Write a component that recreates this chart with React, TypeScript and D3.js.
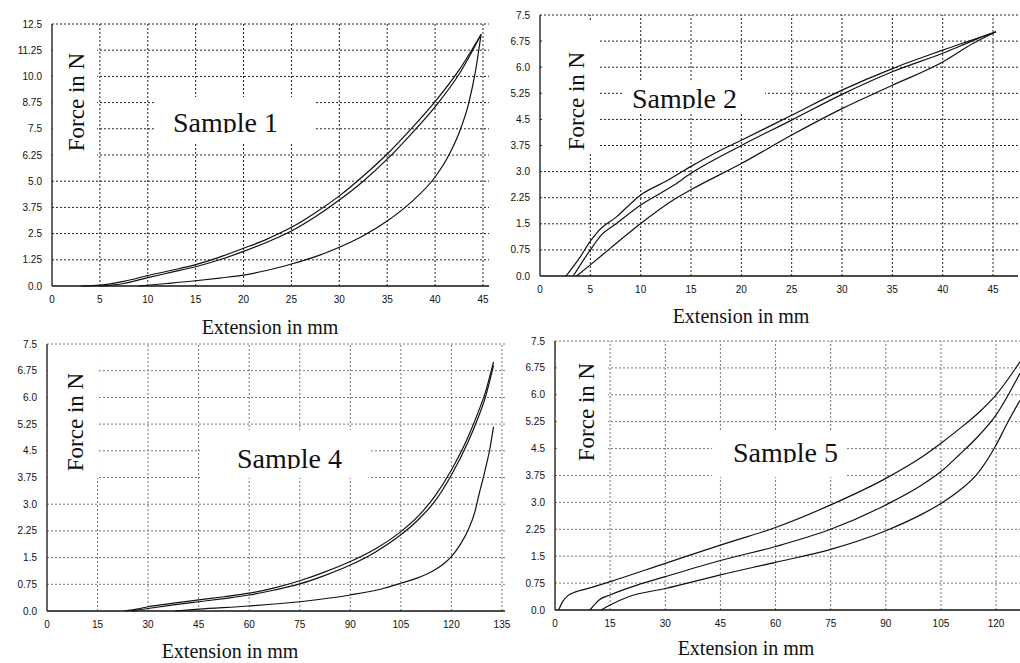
import * as d3 from 'd3'

type Pt = [number, number]

// ---- tick values ----
const S1_X_TICKS = [0, 5, 10, 15, 20, 25, 30, 35, 40, 45]
const S1_Y_TICKS = [0, 1.25, 2.5, 3.75, 5, 6.25, 7.5, 8.75, 10, 11.25, 12.5]
const S2_X_TICKS = [0, 5, 10, 15, 20, 25, 30, 35, 40, 45]
const SMALL_Y_TICKS = [0, 0.75, 1.5, 2.25, 3, 3.75, 4.5, 5.25, 6, 6.75, 7.5]
const S4_X_TICKS = [0, 15, 30, 45, 60, 75, 90, 105, 120, 135]
const S5_X_TICKS = [0, 15, 30, 45, 60, 75, 90, 105, 120]

// ---- sample 1 (force in N vs extension in mm) ----
const S1_A: Pt[] = [[3, 0], [5, 0.04], [7.5, 0.22], [10, 0.5], [12.5, 0.75], [15, 1.02], [17.5, 1.38], [20, 1.8], [22.5, 2.25], [25, 2.8], [27.5, 3.5], [30, 4.3], [32.5, 5.25], [35, 6.3], [37.5, 7.5], [40, 8.8], [42.5, 10.3], [44.8, 12.0]]
const S1_B: Pt[] = [[5, 0], [7.5, 0.12], [10, 0.4], [12.5, 0.66], [15, 0.92], [17.5, 1.25], [20, 1.65], [22.5, 2.1], [25, 2.62], [27.5, 3.3], [30, 4.1], [32.5, 5.0], [35, 6.05], [37.5, 7.25], [40, 8.55], [42.5, 10.1], [44.8, 12.0]]
const S1_C: Pt[] = [[9, 0], [12, 0.12], [15, 0.25], [17.5, 0.38], [20, 0.52], [22.5, 0.75], [25, 1.05], [27.5, 1.4], [30, 1.85], [32.5, 2.4], [35, 3.1], [37.5, 4.0], [40, 5.2], [41.5, 6.3], [42.5, 7.3], [43.5, 8.7], [44.2, 10.2], [44.8, 12.0]]

// ---- sample 2 ----
const S2_A: Pt[] = [[2.58, 0], [4, 0.55], [5, 1.0], [5.8, 1.29], [7.6, 1.7], [10, 2.33], [12.5, 2.72], [15, 3.15], [17.5, 3.55], [20, 3.9], [25, 4.62], [30, 5.34], [35, 5.96], [40, 6.49], [45.3, 7.02]]
const S2_B: Pt[] = [[3.3, 0], [5, 0.75], [6.1, 1.18], [7.6, 1.51], [10, 2.04], [13.2, 2.59], [15, 2.95], [20, 3.75], [25, 4.48], [30, 5.22], [35, 5.87], [40, 6.4], [43.5, 6.82], [45.3, 7.02]]
const S2_C: Pt[] = [[3.64, 0], [5, 0.32], [7, 0.8], [10, 1.51], [13.2, 2.18], [15, 2.48], [20, 3.23], [25, 4.05], [30, 4.81], [35, 5.48], [40, 6.15], [43, 6.68], [45.3, 7.02]]

// ---- sample 4 ----
const S4_A: Pt[] = [[23, 0], [27, 0.06], [30, 0.12], [37.5, 0.22], [45, 0.31], [52.5, 0.4], [60, 0.5], [67.5, 0.65], [75, 0.85], [82.5, 1.1], [90, 1.39], [97.5, 1.75], [105, 2.23], [110, 2.65], [115, 3.21], [120, 3.96], [125, 4.9], [128, 5.6], [130, 6.12], [132.5, 7.0]]
const S4_B: Pt[] = [[25, 0], [30, 0.07], [37.5, 0.17], [45, 0.26], [52.5, 0.35], [60, 0.45], [67.5, 0.59], [75, 0.76], [82.5, 1.0], [90, 1.29], [97.5, 1.66], [105, 2.14], [110, 2.55], [115, 3.07], [120, 3.82], [125, 4.76], [128, 5.45], [130, 5.98], [132.5, 6.9]]
const S4_C: Pt[] = [[38, 0], [45, 0.05], [60, 0.14], [75, 0.26], [90, 0.45], [100, 0.64], [105, 0.78], [110, 0.93], [115, 1.15], [118, 1.35], [120, 1.53], [122.5, 1.85], [125, 2.28], [127, 2.8], [128, 3.2], [130, 3.96], [131.5, 4.6], [132.5, 5.18]]

// ---- sample 5 ----
const S5_A: Pt[] = [[1, 0], [2, 0.22], [3.5, 0.4], [5, 0.48], [10, 0.63], [15, 0.79], [30, 1.3], [45, 1.81], [60, 2.3], [75, 2.93], [90, 3.67], [100, 4.28], [105, 4.65], [110, 5.05], [115, 5.48], [120, 6.0], [126.5, 6.92]]
const S5_B: Pt[] = [[9.5, 0], [11, 0.18], [12, 0.28], [15, 0.42], [22.5, 0.7], [30, 0.93], [45, 1.38], [60, 1.77], [75, 2.25], [90, 2.93], [100, 3.5], [105, 3.86], [110, 4.33], [115, 4.83], [120, 5.44], [126.5, 6.6]]
const S5_C: Pt[] = [[12.5, 0], [15, 0.14], [20, 0.37], [30, 0.6], [45, 0.98], [60, 1.33], [75, 1.69], [90, 2.21], [100, 2.68], [105, 2.97], [110, 3.33], [115, 3.81], [120, 4.6], [123, 5.2], [126.5, 5.85]]

const SERIF = "'Liberation Serif','Times New Roman',serif"
const SANS = "'Liberation Sans',Arial,sans-serif"

const fmtTick = (v: number) => (Math.round(v * 10) === v * 10 ? v.toFixed(1) : v.toFixed(2))

type Box = { x: number; y: number; w: number; h: number }

interface PanelProps {
  id: string
  left: number
  right: number
  top: number
  bottom: number
  xMax: number
  yMax: number
  xTicks: number[]
  yTicks: number[]
  curves: Pt[][]
  title: string
  titleX: number
  titleY: number
  titleBox: Box
  forceX: number
  forceY: number
  forceBox: Box
  extX: number
  extY: number
  grid: string
}

function Panel(p: PanelProps) {
  const x = d3.scaleLinear().domain([0, p.xMax]).range([p.left, p.right])
  const y = d3.scaleLinear().domain([0, p.yMax]).range([p.bottom, p.top])
  const line = d3
    .line<Pt>()
    .x((d) => x(d[0]))
    .y((d) => y(d[1]))
    .curve(d3.curveMonotoneX)

  return (
    <g>
      <defs>
        <clipPath id={`clip-${p.id}`}>
          <rect x={p.titleX - 5} y={p.titleY - 40} width={200} height={41} />
        </clipPath>
      </defs>
      {/* grid */}
      {p.yTicks.filter((t) => t > 0).map((t) => (
        <line key={`h${t}`} x1={p.left} x2={p.right} y1={y(t)} y2={y(t)}
          stroke={p.grid} strokeWidth={1} strokeDasharray="2,2" />
      ))}
      {p.xTicks.filter((t) => t > 0).map((t) => (
        <line key={`v${t}`} x1={x(t)} x2={x(t)} y1={p.bottom} y2={p.top}
          stroke={p.grid} strokeWidth={1} strokeDasharray="2,2" />
      ))}
      {/* axes */}
      <line x1={p.left} x2={p.right} y1={p.bottom} y2={p.bottom} stroke="#111" strokeWidth={1.3} />
      <line x1={p.left} x2={p.left} y1={p.bottom} y2={p.top} stroke="#111" strokeWidth={1.3} />
      {/* tick labels */}
      {p.yTicks.map((t) => (
        <text key={`yl${t}`} x={p.left - 10} y={y(t)} dy="0.35em" textAnchor="end"
          fontFamily={SANS} fontSize={10} fill="#111">{fmtTick(t)}</text>
      ))}
      {p.xTicks.map((t) => (
        <text key={`xl${t}`} x={x(t)} y={p.bottom + 17} textAnchor="middle"
          fontFamily={SANS} fontSize={10} fill="#111">{t}</text>
      ))}
      {/* label backgrounds */}
      <rect x={p.forceBox.x} y={p.forceBox.y} width={p.forceBox.w} height={p.forceBox.h} fill="#fff" />
      <rect x={p.titleBox.x} y={p.titleBox.y} width={p.titleBox.w} height={p.titleBox.h} fill="#fff" />
      <text transform={`translate(${p.forceX},${p.forceY}) rotate(-90)`} textAnchor="middle"
        fontFamily={SERIF} fontSize={23} fill="#111">Force in N</text>
      <text x={p.titleX} y={p.titleY} fontFamily={SERIF} fontSize={28} fill="#111"
        clipPath={`url(#clip-${p.id})`}>{p.title}</text>
      <text x={p.extX} y={p.extY} textAnchor="middle" fontFamily={SERIF} fontSize={20} fill="#111">
        Extension in mm
      </text>
      {/* curves */}
      {p.curves.map((c, i) => (
        <path key={i} d={line(c) ?? ''} fill="none" stroke="#111" strokeWidth={1.2} />
      ))}
    </g>
  )
}

export default function App() {
  return (
    <div>
      <style>{'body{margin:0;background:#fff}'}</style>
      <svg width={1020} height={663} style={{ display: 'block', background: '#fff' }}>
        <Panel id="s1" left={52} right={489} top={24} bottom={286} xMax={45.63} yMax={12.5}
          xTicks={S1_X_TICKS} yTicks={S1_Y_TICKS} curves={[S1_A, S1_B, S1_C]}
          title="Sample 1" titleX={173} titleY={132} titleBox={{ x: 155, y: 97, w: 160, h: 45 }}
          forceX={84} forceY={102} forceBox={{ x: 53, y: 30, w: 44, h: 133 }}
          extX={270} extY={334} grid="#222" />
        <Panel id="s2" left={540} right={1018} top={15} bottom={276} xMax={47.48} yMax={7.5}
          xTicks={S2_X_TICKS} yTicks={SMALL_Y_TICKS} curves={[S2_A, S2_B, S2_C]}
          title="Sample 2" titleX={632} titleY={108} titleBox={{ x: 622, y: 82, w: 143, h: 32 }}
          forceX={584} forceY={101} forceBox={{ x: 543, y: 22, w: 57, h: 130 }}
          extX={741} extY={323} grid="#222" />
        <Panel id="s4" left={47} right={505} top={344} bottom={611} xMax={135.9} yMax={7.5}
          xTicks={S4_X_TICKS} yTicks={SMALL_Y_TICKS} curves={[S4_A, S4_B, S4_C]}
          title="Sample 4" titleX={237} titleY={468} titleBox={{ x: 200, y: 430, w: 170, h: 48 }}
          forceX={83} forceY={422} forceBox={{ x: 48, y: 345, w: 50, h: 133 }}
          extX={230} extY={658} grid="#777" />
        <Panel id="s5" left={555} right={1020} top={341} bottom={610} xMax={126.5} yMax={7.5}
          xTicks={S5_X_TICKS} yTicks={SMALL_Y_TICKS} curves={[S5_A, S5_B, S5_C]}
          title="Sample 5" titleX={733} titleY={462} titleBox={{ x: 712, y: 430, w: 133, h: 47 }}
          forceX={594} forceY={412} forceBox={{ x: 557, y: 345, w: 51, h: 130 }}
          extX={746} extY={655} grid="#777" />
      </svg>
    </div>
  )
}
